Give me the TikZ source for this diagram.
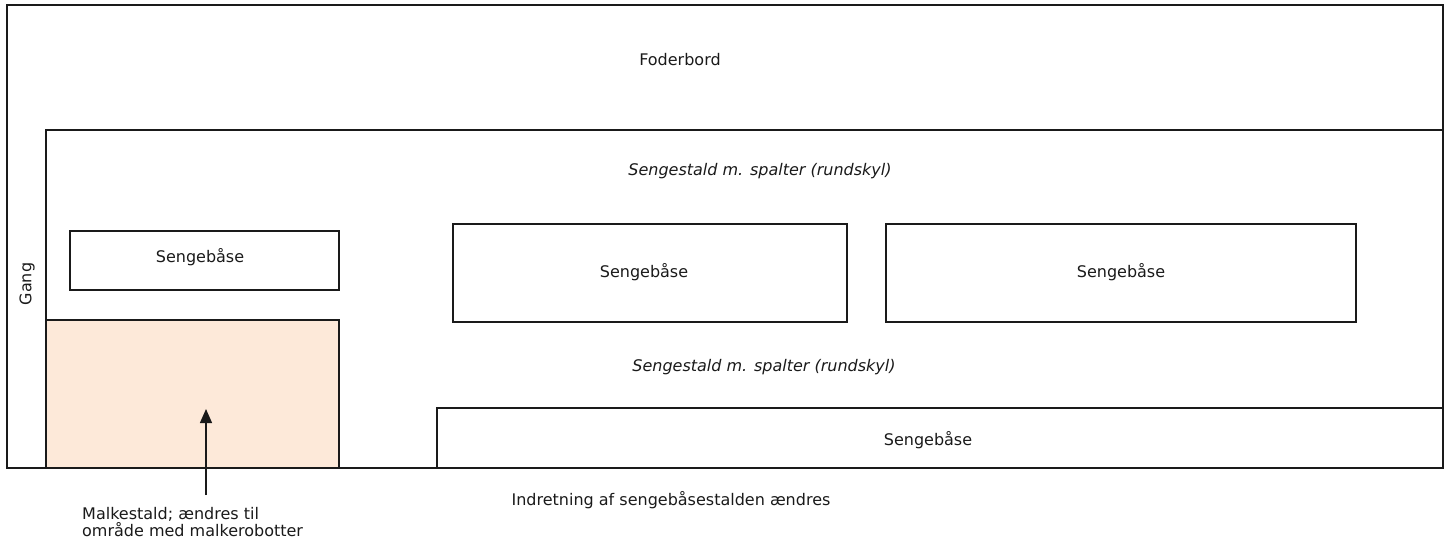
\documentclass[tikz,border=0pt]{standalone}
\usepackage{fontspec}
\setmainfont{DejaVu Sans}
\usepackage{tikz}
\usetikzlibrary{arrows.meta}
\definecolor{ink}{HTML}{1A1A1A}
\definecolor{milk}{HTML}{FDE9D9}
\tikzset{
  wall/.style={draw=ink, line width=2pt, line join=miter},
  bed/.style={draw=ink, line width=2pt},
  milkarea/.style={draw=ink, line width=2pt, fill=milk},
  lbl/.style={text=ink, font=\fontsize{16}{17}\selectfont, inner sep=0pt},
  ilbl/.style={text=ink, font=\fontsize{16}{17}\selectfont\itshape, inner sep=0pt},
  arr/.style={draw=ink, line width=1.3pt, -{Triangle[length=14pt,width=12pt]}}
}

\begin{document}
\begin{tikzpicture}[x=1pt, y=-1pt]
  \useasboundingbox (0,0) rectangle (1449,547);

  % malkestald
  \draw[milkarea] (46,320) rectangle (339,468);

  % stald
  \draw[wall] (7,5) rectangle (1443,468);
  \draw[wall] (1443,130) -- (46,130) -- (46,468);

  % senge
  \draw[bed] (70,231) rectangle (339,290);
  \draw[bed] (453,224) rectangle (847,322);
  \draw[bed] (886,224) rectangle (1356,322);
  \draw[bed] (437,468) -- (437,408) -- (1443,408);

  \node[lbl] (foder) at (680,60) {Foderbord};
  \node[ilbl] (spalte1) at (760,171) {Sengestald m. spalter (rundskyl)};
  \node[ilbl] (spalte2) at (764,367) {Sengestald m. spalter (rundskyl)};
  \node[lbl] (seng1) at (200,257) {Sengebåse};
  \node[lbl] (seng2) at (644,272) {Sengebåse};
  \node[lbl] (seng3) at (1121,272) {Sengebåse};
  \node[lbl] (seng4) at (928,440) {Sengebåse};
  \node[lbl, rotate=90] (gang) at (27,284) {Gang};
  \node[lbl] (indr) at (671,500) {Indretning af sengebåsestalden ændres};
  \node[lbl, anchor=north west, align=left] (malk) at (82,507)
    {Malkestald; ændres til\\område med malkerobotter};

  \coordinate (tip) at (206,409);
  \draw[arr] (tip |- 0,495) -- (tip);
\end{tikzpicture}
\end{document}
